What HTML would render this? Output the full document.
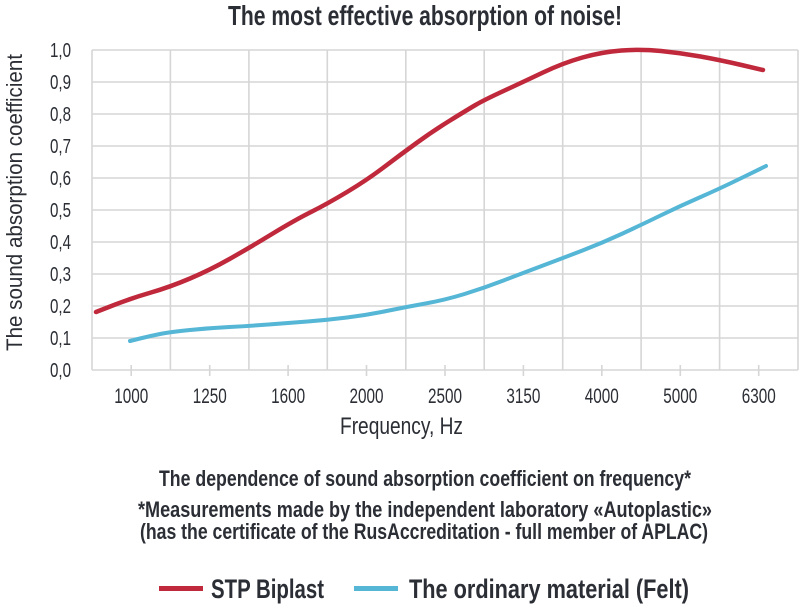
<!DOCTYPE html>
<html>
<head>
<meta charset="utf-8">
<style>
  html,body{margin:0;padding:0;background:#fff;}
  svg{display:block;}
  text{font-family:"Liberation Sans", Arial, sans-serif;fill:#2b2e35;}
  .b{font-weight:bold;}
</style>
</head>
<body>
<svg width="800" height="609" viewBox="0 0 800 609" xmlns="http://www.w3.org/2000/svg">
  <rect width="800" height="609" fill="#ffffff"/>

  <!-- Title -->
  <text class="b" x="228" y="25" font-size="28" textLength="394" lengthAdjust="spacingAndGlyphs">The most effective absorption of noise!</text>

  <!-- Grid -->
  <g stroke="#d6d6d6" stroke-width="1.6" fill="none">
    <line x1="92" y1="50" x2="798" y2="50"/>
    <line x1="92" y1="82" x2="798" y2="82"/>
    <line x1="92" y1="114" x2="798" y2="114"/>
    <line x1="92" y1="146" x2="798" y2="146"/>
    <line x1="92" y1="178" x2="798" y2="178"/>
    <line x1="92" y1="210" x2="798" y2="210"/>
    <line x1="92" y1="242" x2="798" y2="242"/>
    <line x1="92" y1="274" x2="798" y2="274"/>
    <line x1="92" y1="306" x2="798" y2="306"/>
    <line x1="92" y1="338" x2="798" y2="338"/>
    <line x1="92" y1="370" x2="798" y2="370"/>

    <line x1="92" y1="50" x2="92" y2="370"/>
    <line x1="170.4" y1="50" x2="170.4" y2="370"/>
    <line x1="248.9" y1="50" x2="248.9" y2="370"/>
    <line x1="327.3" y1="50" x2="327.3" y2="370"/>
    <line x1="405.8" y1="50" x2="405.8" y2="370"/>
    <line x1="484.2" y1="50" x2="484.2" y2="370"/>
    <line x1="562.7" y1="50" x2="562.7" y2="370"/>
    <line x1="641.1" y1="50" x2="641.1" y2="370"/>
    <line x1="719.6" y1="50" x2="719.6" y2="370"/>
    <line x1="798" y1="50" x2="798" y2="370"/>

    <!-- ticks -->
    <line x1="131.2" y1="365" x2="131.2" y2="376"/>
    <line x1="209.7" y1="365" x2="209.7" y2="376"/>
    <line x1="288.1" y1="365" x2="288.1" y2="376"/>
    <line x1="366.5" y1="365" x2="366.5" y2="376"/>
    <line x1="445.0" y1="365" x2="445.0" y2="376"/>
    <line x1="523.4" y1="365" x2="523.4" y2="376"/>
    <line x1="601.8" y1="365" x2="601.8" y2="376"/>
    <line x1="680.3" y1="365" x2="680.3" y2="376"/>
    <line x1="758.7" y1="365" x2="758.7" y2="376"/>
  </g>

  <!-- Y tick labels -->
  <g font-size="20">
    <text x="50" y="57" textLength="21" lengthAdjust="spacingAndGlyphs">1,0</text>
    <text x="50" y="89" textLength="21" lengthAdjust="spacingAndGlyphs">0,9</text>
    <text x="50" y="121" textLength="21" lengthAdjust="spacingAndGlyphs">0,8</text>
    <text x="50" y="153" textLength="21" lengthAdjust="spacingAndGlyphs">0,7</text>
    <text x="50" y="185" textLength="21" lengthAdjust="spacingAndGlyphs">0,6</text>
    <text x="50" y="217" textLength="21" lengthAdjust="spacingAndGlyphs">0,5</text>
    <text x="50" y="249" textLength="21" lengthAdjust="spacingAndGlyphs">0,4</text>
    <text x="50" y="281" textLength="21" lengthAdjust="spacingAndGlyphs">0,3</text>
    <text x="50" y="313" textLength="21" lengthAdjust="spacingAndGlyphs">0,2</text>
    <text x="50" y="345" textLength="21" lengthAdjust="spacingAndGlyphs">0,1</text>
    <text x="50" y="377" textLength="21" lengthAdjust="spacingAndGlyphs">0,0</text>
  </g>

  <!-- X tick labels -->
  <g font-size="21">
    <text x="114.2" y="403" textLength="34" lengthAdjust="spacingAndGlyphs">1000</text>
    <text x="192.7" y="403" textLength="34" lengthAdjust="spacingAndGlyphs">1250</text>
    <text x="271.1" y="403" textLength="34" lengthAdjust="spacingAndGlyphs">1600</text>
    <text x="349.5" y="403" textLength="34" lengthAdjust="spacingAndGlyphs">2000</text>
    <text x="428.0" y="403" textLength="34" lengthAdjust="spacingAndGlyphs">2500</text>
    <text x="506.4" y="403" textLength="34" lengthAdjust="spacingAndGlyphs">3150</text>
    <text x="584.8" y="403" textLength="34" lengthAdjust="spacingAndGlyphs">4000</text>
    <text x="663.3" y="403" textLength="34" lengthAdjust="spacingAndGlyphs">5000</text>
    <text x="741.7" y="403" textLength="34" lengthAdjust="spacingAndGlyphs">6300</text>
  </g>

  <!-- Axis titles -->
  <text x="340" y="434" font-size="24" textLength="123" lengthAdjust="spacingAndGlyphs">Frequency, Hz</text>
  <text transform="translate(22,351) rotate(-90)" x="0" y="0" font-size="22" textLength="297" lengthAdjust="spacingAndGlyphs">The sound absorption coefficient</text>

  <!-- Series -->
  <path d="M96,312 L114,305 Q132,298 151,292.5 Q170,287 190,278.5 Q210,270 229.5,259 Q249,248 272,234 Q295,220 311,212 Q327,204 347,192 Q367,180 383.5,167.5 Q400,155 416.5,143 Q433,131 450,120.5 Q467,110 475.5,105 Q484,100 503.5,91 Q523,82 543,72.5 Q563,63 582.5,57.5 Q602,52 621.5,50.5 Q641,49 661,51 Q681,53 700.5,56.5 Q720,60 741.5,65 L763,70"
        fill="none" stroke="#c0283b" stroke-width="4.5" stroke-linecap="round" stroke-linejoin="round"/>
  <path d="M130,341 L140,338.5 Q150,336 160,334 Q170,332 190,330 Q210,328 229.5,327 Q249,326 268.5,324.5 Q288,323 307.5,321.5 Q327,320 347,317.5 Q367,315 386.5,311 Q406,307 425.5,303.5 Q445,300 464.5,294 Q484,288 503.5,280.5 Q523,273 543,265.5 Q563,258 582.5,250.5 Q602,243 621.5,234 Q641,225 660.5,215.5 Q680,206 699.5,197.5 Q719,189 742.5,177.5 L766,166"
        fill="none" stroke="#55b6d6" stroke-width="4" stroke-linecap="round" stroke-linejoin="round"/>

  <!-- Captions -->
  <text class="b" x="159" y="486" font-size="22" textLength="532" lengthAdjust="spacingAndGlyphs">The dependence of sound absorption coefficient on frequency*</text>
  <text class="b" x="138" y="517" font-size="22" textLength="574" lengthAdjust="spacingAndGlyphs">*Measurements made by the independent laboratory «Autoplastic»</text>
  <text class="b" x="140" y="539" font-size="22" textLength="568" lengthAdjust="spacingAndGlyphs">(has the certificate of the RusAccreditation - full member of APLAC)</text>

  <!-- Legend -->
  <rect x="159" y="586" width="44" height="5" fill="#c0283b"/>
  <text class="b" x="211" y="598" font-size="27" textLength="113" lengthAdjust="spacingAndGlyphs">STP Biplast</text>
  <rect x="354" y="586" width="44" height="5" fill="#55b6d6"/>
  <text class="b" x="409" y="598" font-size="27" textLength="280" lengthAdjust="spacingAndGlyphs">The ordinary material (Felt)</text>
</svg>
</body>
</html>
